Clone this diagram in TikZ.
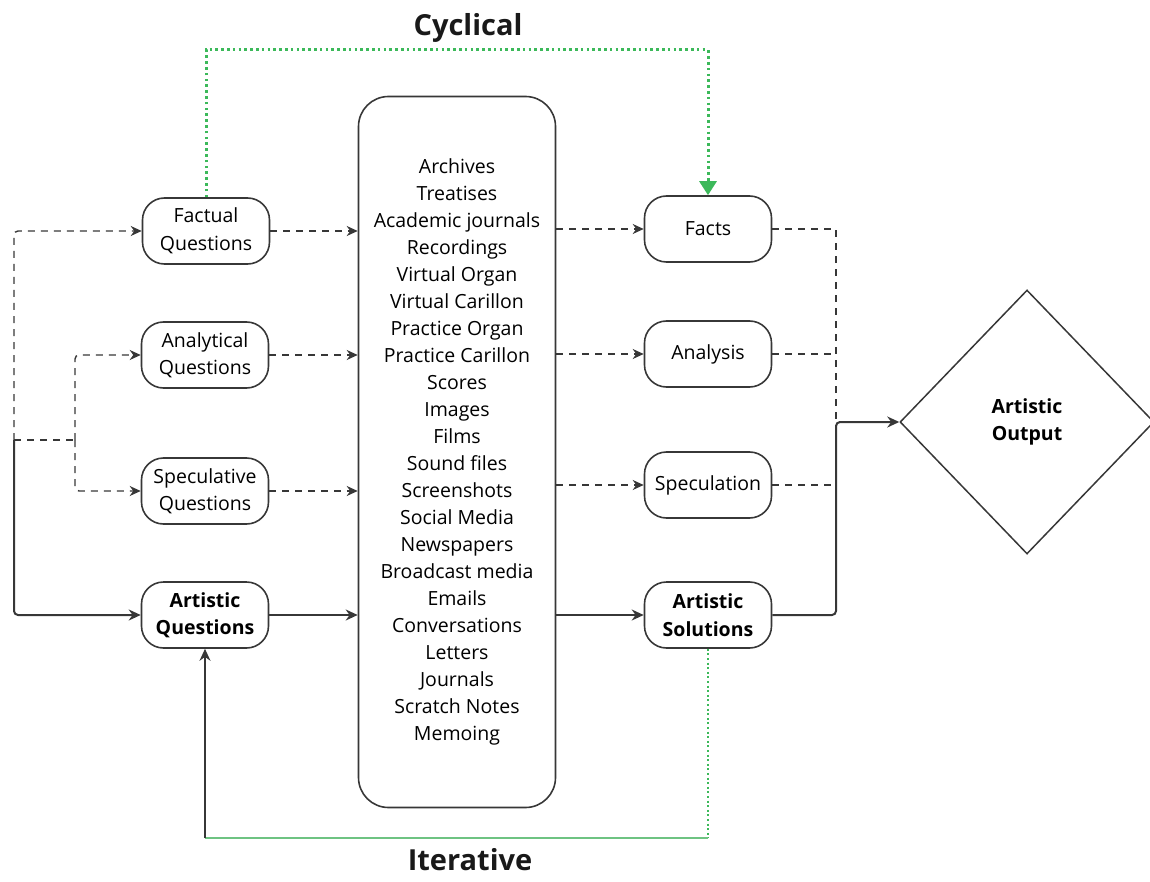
\documentclass[tikz,border=0pt]{standalone}
\usepackage{fontspec}
\setmainfont{Open Sans}
\usetikzlibrary{arrows.meta,shapes.geometric,calc}
\definecolor{linec}{RGB}{55,55,55}
\definecolor{gdot}{RGB}{60,185,90}
\definecolor{gline}{RGB}{110,195,130}
\tikzset{
  box/.style={draw=linec, line width=1.6pt, rounded corners=22pt, minimum width=127pt, minimum height=66pt, align=center, inner sep=0pt, font=\fontsize{19.5}{27.5}\selectfont},
  bbox/.style={box, font=\fontsize{19.5}{27.5}\selectfont\bfseries},
  dline/.style={draw=linec, line width=1.4pt, dash pattern=on 7pt off 6pt},
  darr/.style={dline, -{Stealth[length=11pt,width=10pt]}},
  sline/.style={draw=linec, line width=2pt, rounded corners=4pt},
  sarr/.style={sline, -{Stealth[length=12pt,width=11pt]}},
  gdotted/.style={draw=gdot, line width=3pt, dash pattern=on 2.6pt off 3.2pt},
  title/.style={font=\fontsize{29}{32}\selectfont\bfseries, text=black!90}
}
\begin{document}
\begin{tikzpicture}[x=1pt,y=-1pt]
\useasboundingbox (0,0) rectangle (1150,882);

\node[box] (fq) at (206,231) {Factual\\Questions};
\node[box] (anq) at (205,355) {Analytical\\Questions};
\node[box] (sq) at (205,491) {Speculative\\Questions};
\node[bbox] (aq) at (205,615) {Artistic\\Questions};

\node[draw=linec, line width=1.6pt, rounded corners=30pt, minimum width=197pt, minimum height=711pt, align=center, inner sep=0pt,
      font=\fontsize{19.5}{27}\selectfont] (src) at (457,452)
 {Archives\\Treatises\\Academic journals\\Recordings\\Virtual Organ\\Virtual Carillon\\Practice Organ\\Practice Carillon\\Scores\\Images\\Films\\Sound files\\Screenshots\\Social Media\\Newspapers\\Broadcast media\\Emails\\Conversations\\Letters\\Journals\\Scratch Notes\\Memoing};

\node[box] (facts) at (708,229) {Facts};
\node[box] (ana) at (708,354) {Analysis};
\node[box] (spec) at (708,485) {Speculation};
\node[bbox] (asol) at (708,615) {Artistic\\Solutions};

\node[draw=linec, line width=1.5pt, diamond, minimum width=254pt, minimum height=264pt, inner sep=0pt, align=center,
      font=\fontsize{19.5}{27}\selectfont\bfseries] (out) at (1027,422) {Artistic\\Output};

\node[title] (cyc) at (468,28) {Cyclical};
\node[title] (itr) at (470,860) {Iterative};

% left wiring
\coordinate (L) at (14,440);
\coordinate (L2) at (75,440);
\draw[sarr] (L) |- (aq.west);
\draw[darr, rounded corners=4pt] (L) |- (fq.west);
\draw[dline] (L) -- (L2);
\draw[darr, rounded corners=4pt] (L2) |- (anq.west);
\draw[darr, rounded corners=4pt] (L2) |- (sq.west);

% questions to sources
\draw[darr] (fq.east) -- (fq.east -| src.west);
\draw[darr] (anq.east) -- (anq.east -| src.west);
\draw[darr] (sq.east) -- (sq.east -| src.west);
\draw[sarr] (aq.east) -- (aq.east -| src.west);

% sources to results
\draw[darr] (facts.west -| src.east) -- (facts.west);
\draw[darr] (ana.west -| src.east) -- (ana.west);
\draw[darr] (spec.west -| src.east) -- (spec.west);
\draw[sarr] (asol.west -| src.east) -- (asol.west);

% results to output
\coordinate (R) at (836,422);
\draw[dline] (facts.east) -| (R);
\draw[dline] (ana.east) -- (ana.east -| R);
\draw[dline] (spec.east) -- (spec.east -| R);
\draw[sarr] (asol.east) -| (R) -- (out.west);

% cyclical
\coordinate (c1) at (206,50);
\draw[gdotted, -{Triangle[length=14pt,width=17pt,fill=gdot]}] (fq.north) -- (c1) -| (facts.north);

% iterative
\coordinate (i1) at (708,838);
\coordinate (i2) at (205,838);
\draw[draw=gdot, line width=2pt, dash pattern=on 2pt off 2.6pt] (asol.south) -- (i1);
\draw[draw=gline, line width=1.6pt] (i1) -- (i2);
\draw[draw=linec, line width=1.6pt, -{Stealth[length=12pt,width=11pt]}] (i2) -- (aq.south);
\end{tikzpicture}
\end{document}
